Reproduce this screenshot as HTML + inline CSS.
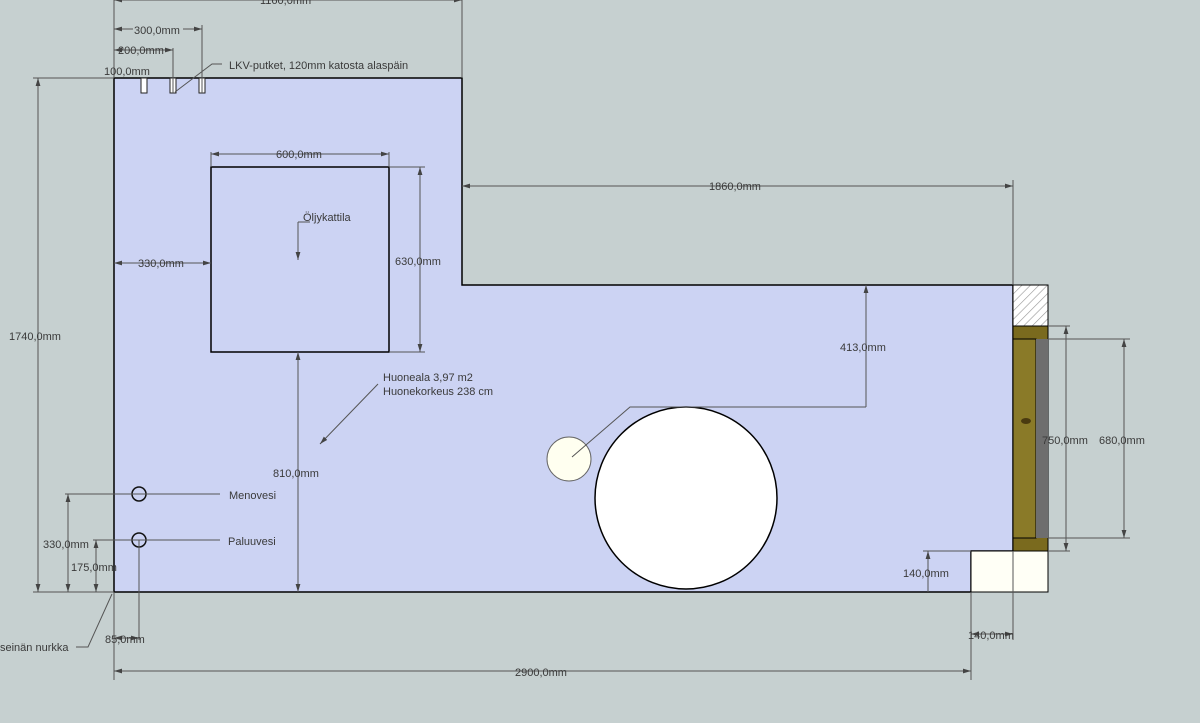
<!DOCTYPE html>
<html><head><style>
body{margin:0;background:#c6d0d0;}
svg{display:block}
text{font-family:"Liberation Sans",sans-serif;font-size:11px;fill:#3a3a3a}
</style></head><body>
<svg width="1200" height="723" viewBox="0 0 1200 723">
<defs>
<pattern id="h" width="6" height="6" patternUnits="userSpaceOnUse" patternTransform="rotate(45)">
<rect width="6" height="6" fill="#fff"/><line x1="0" y1="0" x2="0" y2="6" stroke="#999" stroke-width="1.2"/></pattern>
<marker id="a" viewBox="0 0 10 10" refX="10" refY="5" markerWidth="8" markerHeight="8" orient="auto-start-reverse"><path d="M0,2 L10,5 L0,8z" fill="#444"/></marker>
</defs>
<rect width="1200" height="723" fill="#c6d0d0"/>
<polygon points="114,78 462,78 462,285 1013,285 1013,551 971,551 971,592 114,592" fill="#ccd3f3" stroke="#000" stroke-width="1.5"/>
<rect x="1013" y="285" width="35" height="41" fill="url(#h)" stroke="#000"/>
<rect x="1013" y="326" width="35" height="225" fill="#7a6a1e" stroke="#000"/>
<rect x="1013" y="339" width="23" height="199" fill="#8a7a28" stroke="#000"/>
<rect x="1036" y="339" width="12" height="199" fill="#6e6e6e"/>
<ellipse cx="1026" cy="421" rx="5" ry="3" fill="#4a3a10"/>
<rect x="971" y="551" width="77" height="41" fill="#fffff6" stroke="#000"/>
<rect x="211" y="167" width="178" height="185" fill="none" stroke="#000" stroke-width="1.5"/>
<circle cx="686" cy="498" r="91" fill="#fff" stroke="#000" stroke-width="1.5"/>
<circle cx="569" cy="459" r="22" fill="#fffff0" stroke="#666"/>
<circle cx="139" cy="494" r="7" fill="none" stroke="#111" stroke-width="1.5"/>
<circle cx="139" cy="540" r="7" fill="none" stroke="#111" stroke-width="1.5"/>
<g fill="#fff" stroke="#222"><rect x="141" y="78" width="6" height="15"/><rect x="170" y="78" width="6" height="15"/><rect x="199" y="78" width="6" height="15"/></g>
<g stroke="#555" stroke-width="1" fill="none">
<line x1="114" y1="0" x2="114" y2="78"/><line x1="462" y1="0" x2="462" y2="78"/>
<line x1="114" y1="0" x2="462" y2="0" marker-start="url(#a)" marker-end="url(#a)"/>
<line x1="202" y1="25" x2="202" y2="93"/><line x1="114" y1="29" x2="202" y2="29" marker-start="url(#a)" marker-end="url(#a)"/>
<line x1="173" y1="48" x2="173" y2="93"/><line x1="114" y1="50" x2="173" y2="50" marker-start="url(#a)" marker-end="url(#a)"/>
<polyline points="175,92 212,64 222,64"/>
<line x1="211" y1="152" x2="211" y2="167"/><line x1="389" y1="152" x2="389" y2="167"/>
<line x1="211" y1="154" x2="389" y2="154" marker-start="url(#a)" marker-end="url(#a)"/>
<line x1="389" y1="167" x2="425" y2="167"/><line x1="389" y1="352" x2="425" y2="352"/>
<line x1="420" y1="167" x2="420" y2="352" marker-start="url(#a)" marker-end="url(#a)"/>
<line x1="114" y1="263" x2="211" y2="263" marker-start="url(#a)" marker-end="url(#a)"/>
<polyline points="298,222 298,260" marker-end="url(#a)"/><line x1="298" y1="222" x2="310" y2="222"/>
<line x1="462" y1="186" x2="1013" y2="186" marker-start="url(#a)" marker-end="url(#a)"/>
<line x1="1013" y1="180" x2="1013" y2="285"/>
<line x1="298" y1="352" x2="298" y2="592" marker-start="url(#a)" marker-end="url(#a)"/>
<line x1="866" y1="285" x2="866" y2="407" marker-start="url(#a)"/>
<polyline points="866,407 630,407 572,457"/>
<line x1="378" y1="384" x2="320" y2="444" marker-end="url(#a)"/>
<line x1="33" y1="78" x2="114" y2="78"/><line x1="33" y1="592" x2="114" y2="592"/>
<line x1="38" y1="78" x2="38" y2="592" marker-start="url(#a)" marker-end="url(#a)"/>
<line x1="65" y1="494" x2="220" y2="494"/><line x1="68" y1="494" x2="68" y2="592" marker-start="url(#a)" marker-end="url(#a)"/>
<line x1="93" y1="540" x2="220" y2="540"/><line x1="96" y1="540" x2="96" y2="592" marker-start="url(#a)" marker-end="url(#a)"/>
<line x1="114" y1="592" x2="114" y2="680"/><line x1="139" y1="540" x2="139" y2="640"/>
<line x1="114" y1="638" x2="139" y2="638" marker-start="url(#a)" marker-end="url(#a)"/>
<polyline points="76,647 88,647 112,594"/>
<line x1="971" y1="592" x2="971" y2="680"/><line x1="1013" y1="551" x2="1013" y2="640"/>
<line x1="114" y1="671" x2="971" y2="671" marker-start="url(#a)" marker-end="url(#a)"/>
<line x1="971" y1="634" x2="1013" y2="634" marker-start="url(#a)" marker-end="url(#a)"/>
<line x1="923" y1="551" x2="971" y2="551"/><line x1="928" y1="551" x2="928" y2="592" marker-start="url(#a)"/>
<line x1="1048" y1="326" x2="1070" y2="326"/><line x1="1048" y1="551" x2="1070" y2="551"/>
<line x1="1066" y1="326" x2="1066" y2="551" marker-start="url(#a)" marker-end="url(#a)"/>
<line x1="1048" y1="339" x2="1130" y2="339"/><line x1="1048" y1="538" x2="1130" y2="538"/>
<line x1="1124" y1="339" x2="1124" y2="538" marker-start="url(#a)" marker-end="url(#a)"/>
</g>
<g>
<text x="260" y="4" fill="#3a3a3a">1160,0mm</text>
<text x="134" y="33" style="fill:#3a3a3a" font-size="11">300,0mm</text>
<rect x="133" y="25" width="50" height="10" fill="#c6d0d0"/><text x="134" y="34">300,0mm</text>
<text x="118" y="54">200,0mm</text>
<text x="104" y="75">100,0mm</text>
<text x="229" y="69">LKV-putket, 120mm katosta alaspäin</text>
<text x="276" y="158">600,0mm</text>
<text x="138" y="267">330,0mm</text>
<text x="395" y="265">630,0mm</text>
<text x="303" y="221">Öljykattila</text>
<text x="709" y="190">1860,0mm</text>
<text x="840" y="351">413,0mm</text>
<text x="383" y="381">Huoneala 3,97 m2</text>
<text x="383" y="395">Huonekorkeus 238 cm</text>
<text x="273" y="477">810,0mm</text>
<text x="9" y="340">1740,0mm</text>
<text x="229" y="499">Menovesi</text>
<text x="228" y="545">Paluuvesi</text>
<text x="43" y="548">330,0mm</text>
<text x="71" y="571">175,0mm</text>
<text x="0" y="651">seinän nurkka</text>
<text x="105" y="643">85,0mm</text>
<text x="515" y="676">2900,0mm</text>
<text x="968" y="639">140,0mm</text>
<text x="903" y="577">140,0mm</text>
<text x="1042" y="444">750,0mm</text>
<text x="1099" y="444">680,0mm</text>
</g>
</svg>
</body></html>
